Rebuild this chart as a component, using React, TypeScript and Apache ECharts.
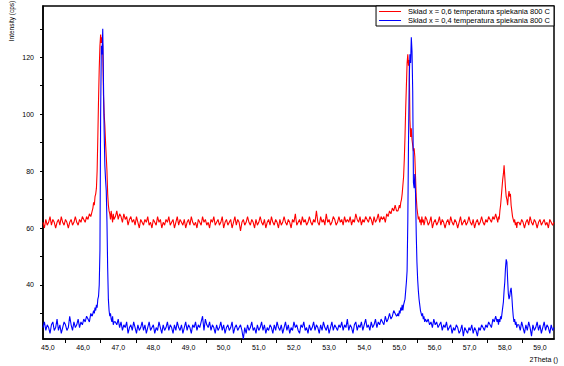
import React, { useEffect, useRef } from "react";
import * as echarts from "echarts";

const legendNames = [
  "Skład x = 0,6 temperatura spiekania 800 C",
  "Skład x = 0,4 temperatura spiekania 800 C",
];
const xLabelValues = [45, 46, 47, 48, 49, 50, 51, 52, 53, 54, 55, 56, 57, 58, 59];
const xTickValues = [45.5, 46.5, 47.5, 48.5, 49.5, 50.5, 51.5, 52.5, 53.5, 54.5, 55.5, 56.5, 57.5, 58.5];
const yLabelValues = [40, 60, 80, 100, 120];
const yTickValues = [30, 40, 50, 60, 70, 80, 90, 100, 110, 120, 130];

// 2Theta sampling of each recorded segment (start, step)
const segmentStarts = [44.86, 46.28, 46.92, 54.96, 55.78, 57.78, 58.4];
const segmentSteps = [0.04, 0.02, 0.04, 0.02, 0.04, 0.02, 0.04];

// x = 0,6 (red)
const redBase1 = [62,60,63,61,62,64,61,63,62,60,62,63,61,64,62,61,63,62,60,62,63,61,62,64,62,61,63,62,64,63,62,64,63,65,64,66];
const redPeak1 = [67,69,68,71,72,74,80,92,105,116,124,128,125,127,124,107,100,96,90,85,80,72,68,66,65,63,66,64,62,65,63];
const redBase2 = [
  64,66,63,65,64,62,65,63,64,61,63,64,62,63,61,64,62,60,63,62,
  61,63,62,64,61,62,60,63,62,61,64,62,63,60,62,61,63,62,64,61,
  62,63,60,62,64,61,63,62,61,63,60,62,63,61,64,62,61,62,60,63,
  62,61,64,62,63,61,62,60,63,62,64,61,62,63,61,62,64,60,62,63,
  61,62,63,60,62,64,61,63,62,59,62,63,61,62,64,62,61,63,62,60,
  63,61,62,64,62,61,63,60,62,63,61,64,62,61,63,62,60,63,61,62,
  64,62,61,63,62,60,63,62,65,61,62,63,61,64,62,63,61,62,64,62,
  61,63,62,66,62,61,64,62,63,61,65,62,63,61,62,64,63,61,62,64,
  62,63,61,64,62,63,62,64,61,63,62,65,63,62,64,61,63,62,64,63,
  62,64,63,61,64,62,63,65,62,64,63,64,62,65,64,66,65,67,66,68,66,
];
const redPeak2 = [66,67,68,67,69,70,72,75,78,84,92,102,110,118,121,117,119,98,92,95,91,89,87,88,85,78,71,67,65,63,64,62,63,61,64,62,63,61,62,64];
const redBase3 = [
  63,61,62,64,60,62,63,61,62,64,61,63,62,60,62,63,61,64,62,61,
  63,62,60,62,64,61,62,63,61,62,64,62,61,63,60,62,63,61,62,64,
  62,61,63,62,64,63,62,64,63,65,
];
const redPeak3 = [63,62,64,63,66,68,71,74,77,79,82,78,74,71,70,68,71,73,71,72,68,66,64,63,62,63,61,62,60,62];
const redBase4 = [62,61,63,62,60,62,63,61,64,62,61,63,62,60,62,63,61,62,63,61,62,60,63,62,61,62];

// x = 0,4 (blue)
const blueBase1 = [25,27,24,26,25,23,26,27,24,25,28,24,26,23,25,27,26,24,25,29,26,24,27,25,26,28,25,27,26,28,27,29,28,27,30,29];
const bluePeak1 = [29,31,30,32,31,33,32,35,36,40,52,100,124,121,130,112,94,82,77,73,62,46,35,31,29,30,28,27,29,26,27];
const blueBase2 = [
  27,26,28,25,27,24,26,25,27,23,25,26,24,27,25,23,26,24,25,27,
  24,26,23,25,27,24,25,26,23,25,24,27,25,23,26,24,25,27,24,26,
  25,23,26,24,27,25,24,26,23,25,27,24,26,25,23,26,25,27,24,26,
  25,27,29,24,28,26,25,27,24,26,25,23,26,24,25,27,24,26,23,25,
  26,24,25,27,23,25,26,24,25,26,24,21,25,23,26,24,25,27,24,25,
  23,26,24,25,27,24,26,23,25,24,26,25,23,26,24,27,25,24,26,23,
  25,27,24,26,23,25,24,27,25,26,24,23,26,25,27,24,25,23,26,24,
  25,27,24,26,25,23,26,24,27,25,24,26,23,25,27,24,26,25,24,26,
  25,27,24,26,25,28,24,26,25,23,26,27,24,26,25,27,24,26,28,25,
  26,24,27,25,26,28,25,27,26,28,27,26,29,27,28,30,28,29,31,30,29,
];
const bluePeak2 = [30,29,31,30,32,31,33,31,33,34,35,38,41,45,62,90,112,121,118,127,122,108,76,74,79,72,58,48,42,38,35,33,31,30,29,30,28,29,27,28];
const blueBase3 = [
  27,28,26,27,25,28,26,27,25,26,27,24,26,25,27,24,25,26,23,25,
  24,26,25,23,24,26,22,25,24,23,25,24,26,23,25,24,22,25,24,26,
  25,24,26,25,27,26,25,28,27,29,
];
const bluePeak3 = [27,28,26,28,27,29,28,30,32,34,38,41,46,49,48,42,37,35,36,38,39,36,32,29,27,28,26,27,25,26];
const blueBase4 = [26,24,27,25,23,26,24,27,25,22,26,24,25,27,24,26,23,25,27,24,26,25,23,26,24,25];

const redSegments = [redBase1, redPeak1, redBase2, redPeak2, redBase3, redPeak3, redBase4];
const blueSegments = [blueBase1, bluePeak1, blueBase2, bluePeak2, blueBase3, bluePeak3, blueBase4];

function buildSeries(segments: number[][]): [number, number][] {
  const out: [number, number][] = [];
  segments.forEach((vals, s) => {
    vals.forEach((v, i) => {
      out.push([+(segmentStarts[s] + i * segmentSteps[s]).toFixed(3), v]);
    });
  });
  return out;
}

const narrowFont = "'Liberation Sans Narrow', 'Liberation Sans', Arial, sans-serif";
const regularFont = "'Liberation Sans', Arial, sans-serif";

export default function App() {
  const ref = useRef<HTMLDivElement | null>(null);

  useEffect(() => {
    if (!ref.current) return;
    const chart = echarts.init(ref.current, undefined, { renderer: "svg" });
    chart.setOption({
      animation: false,
      backgroundColor: "#fff",
      grid: {
        left: 43,
        top: 6,
        right: 10,
        bottom: 27,
        show: true,
        borderColor: "#000",
        borderWidth: 1.5,
        containLabel: false,
        outerBoundsMode: "none",
      },
      legend: {
        data: legendNames,
        top: 6,
        right: 10,
        orient: "vertical",
        icon: "rect",
        itemWidth: 22,
        itemHeight: 1,
        itemGap: 0,
        padding: [1, 4, 1, 3],
        borderColor: "#000",
        borderWidth: 1,
        backgroundColor: "#fff",
        selectedMode: false,
        textStyle: {
          fontSize: 7.5,
          lineHeight: 9,
          color: "#000",
          fontFamily: regularFont,
          padding: [0, 0, 0, 2],
        },
      },
      xAxis: {
        type: "value",
        min: 44.86,
        max: 59.4,
        axisLine: { show: true, onZero: false, lineStyle: { color: "#000", width: 1.5 } },
        axisTick: {
          show: true,
          customValues: xTickValues,
          length: 4,
          lineStyle: { color: "#000", width: 1 },
        },
        axisLabel: {
          customValues: xLabelValues,
          formatter: (v: number) => v.toFixed(1).replace(".", ","),
          fontSize: 7,
          color: "#000",
          margin: 5,
          fontFamily: narrowFont,
        },
        splitLine: { show: false },
      },
      yAxis: {
        type: "value",
        min: 21,
        max: 138,
        axisLine: { show: true, lineStyle: { color: "#000", width: 1.5 } },
        axisTick: {
          show: true,
          customValues: yTickValues,
          length: 3,
          lineStyle: { color: "#000", width: 1 },
        },
        axisLabel: {
          customValues: yLabelValues,
          fontSize: 7,
          color: "#000",
          margin: 9,
          fontFamily: narrowFont,
        },
        splitLine: { show: false },
      },
      graphic: [
        {
          type: "text",
          x: 11,
          y: 21,
          rotation: Math.PI / 2,
          style: {
            text: "Intensity (cps)",
            fontSize: 6.5,
            fill: "#000",
            align: "center",
            verticalAlign: "middle",
            fontFamily: narrowFont,
          },
        },
        {
          type: "text",
          x: 558,
          y: 359,
          style: {
            text: "2Theta ()",
            fontSize: 7,
            fill: "#000",
            align: "right",
            verticalAlign: "middle",
            fontFamily: narrowFont,
          },
        },
      ],
      series: [
        {
          name: legendNames[0],
          type: "line",
          data: buildSeries(redSegments),
          showSymbol: false,
          symbol: "none",
          color: "#ff0000",
          lineStyle: { color: "#ff0000", width: 1.1 },
          silent: true,
        },
        {
          name: legendNames[1],
          type: "line",
          data: buildSeries(blueSegments),
          showSymbol: false,
          symbol: "none",
          color: "#0000ff",
          lineStyle: { color: "#0000ff", width: 1.1 },
          silent: true,
        },
      ],
    });
    return () => chart.dispose();
  }, []);

  return <div ref={ref} style={{ width: 564, height: 366, position: "absolute", left: 0, top: 0 }} />;
}
